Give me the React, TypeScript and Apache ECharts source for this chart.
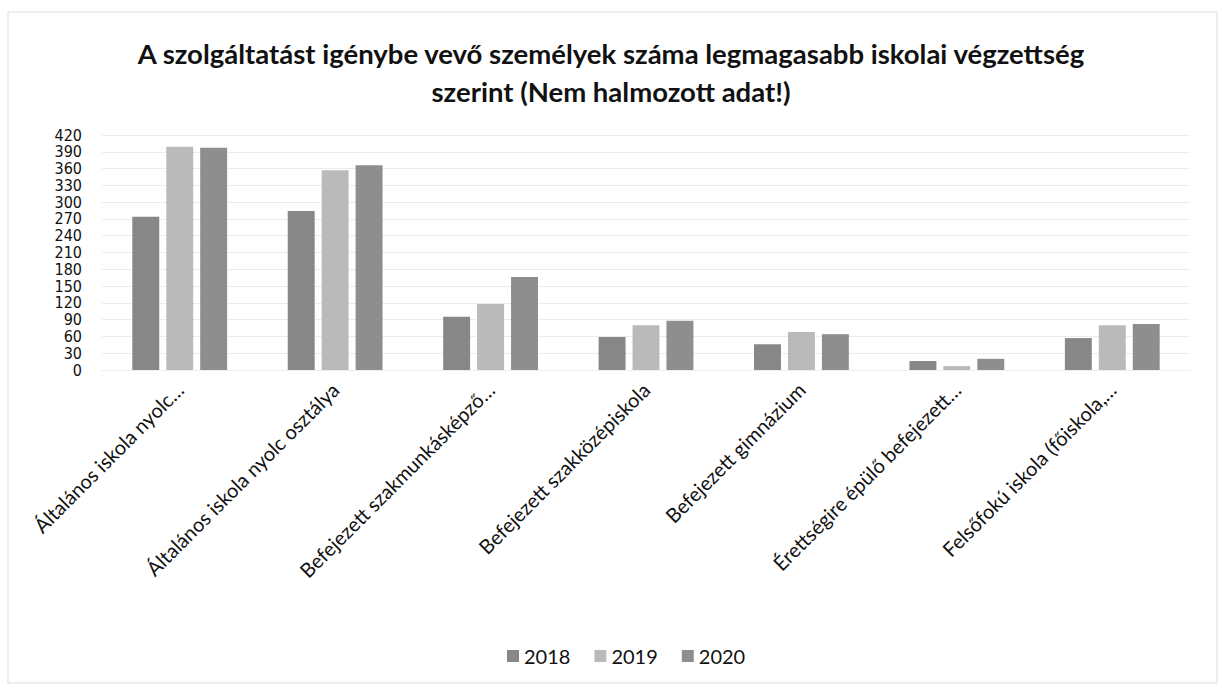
import React, { useEffect, useRef } from "react";
import * as echarts from "echarts";

const titleLines = [
  "A szolgáltatást igénybe vevő személyek száma legmagasabb iskolai végzettség",
  "szerint (Nem halmozott adat!)",
];

const categories = [
  "Általános iskola nyolc…",
  "Általános iskola nyolc osztálya",
  "Befejezett szakmunkásképző…",
  "Befejezett szakközépiskola",
  "Befejezett gimnázium",
  "Érettségire épülő befejezett…",
  "Felsőfokú iskola (főiskola,…",
];

const seriesNames = ["2018", "2019", "2020"];
const values2018 = [274, 284, 95, 59, 46, 16, 57];
const values2019 = [399, 357, 118, 80, 68, 7, 80];
const values2020 = [397, 366, 166, 88, 64, 20, 82];
const seriesColors = ["#878787", "#bababa", "#8e8e8e"];

const yMin = 0;
const yMax = 420;
const yInterval = 30;

export default function App() {
  const ref = useRef<HTMLDivElement>(null);

  useEffect(() => {
    document.body.style.margin = "0";
    if (!ref.current) return;
    const chart = echarts.init(ref.current, undefined, { renderer: "svg" });
    const font = "Lato, 'Open Sans', sans-serif";
    const data = [values2018, values2019, values2020];
    chart.setOption({
      animation: false,
      backgroundColor: "#ffffff",
      textStyle: { fontFamily: font },
      title: {
        text: titleLines.join("\n"),
        left: "center",
        top: 29,
        textStyle: {
          fontFamily: font,
          fontSize: 27.5,
          fontWeight: "bold",
          color: "#111111",
          lineHeight: 38,
        },
      },
      graphic: [
        {
          type: "rect",
          shape: { x: 8, y: 12, width: 1209, height: 671 },
          style: { fill: "none", stroke: "#eeeeee", lineWidth: 2 },
          silent: true,
        },
      ],
      legend: {
        data: seriesNames,
        top: 641,
        left: 502,
        itemWidth: 12,
        itemHeight: 12,
        itemGap: 24,
        icon: "rect",
        textStyle: { fontFamily: font, fontSize: 20, color: "#111111" },
      },
      grid: { left: 102, right: 32, top: 135, bottom: 318 },
      xAxis: {
        type: "category",
        data: categories,
        axisLine: { show: true, lineStyle: { color: "#eeeeee" } },
        axisTick: { show: false },
        axisLabel: {
          rotate: 45,
          interval: 0,
          margin: 16,
          fontFamily: font,
          fontSize: 20,
          color: "#111111",
        },
      },
      yAxis: {
        type: "value",
        min: yMin,
        max: yMax,
        interval: yInterval,
        axisLine: { show: false },
        axisTick: { show: false },
        splitLine: { lineStyle: { color: "#ececec", width: 1 } },
        axisLabel: {
          margin: 20,
          showMinLabel: true,
          showMaxLabel: true,
          fontFamily: "'DejaVu Sans Condensed', Lato, sans-serif",
          fontSize: 16,
          color: "#111111",
          lineHeight: 15,
        },
      },
      series: seriesNames.map((name, i) => ({
        name,
        type: "bar",
        data: data[i],
        barGap: "26%",
        barCategoryGap: "39%",
        itemStyle: { color: seriesColors[i] },
      })),
    });
    return () => chart.dispose();
  }, []);

  return <div ref={ref} style={{ width: 1222, height: 688 }} />;
}
